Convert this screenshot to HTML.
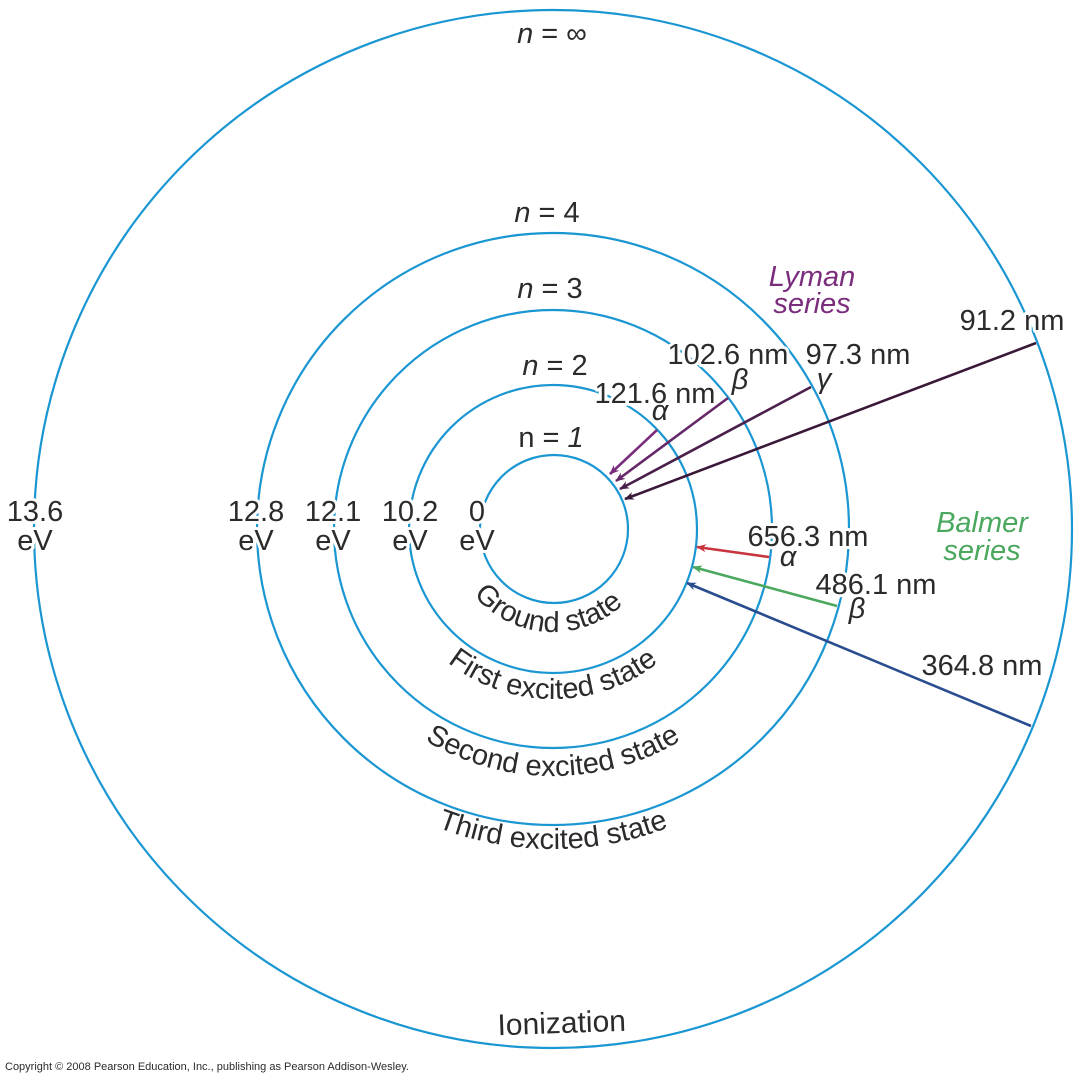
<!DOCTYPE html>
<html><head><meta charset="utf-8"><style>
html,body{margin:0;padding:0;background:#fff}
svg{display:block}
text{font-family:"Liberation Sans",sans-serif;fill:#2b2b2b}
.h{paint-order:stroke;stroke:#fff;stroke-width:6px;stroke-linejoin:round}
.g{font-family:"Liberation Serif",serif;font-style:italic}
</style></head><body>
<svg width="1080" height="1080" viewBox="0 0 1080 1080" xmlns="http://www.w3.org/2000/svg">
<defs>
<marker id="m1" markerWidth="10" markerHeight="8" refX="9" refY="4" orient="auto" markerUnits="userSpaceOnUse"><path d="M0,0 L10,4 L0,8 L3,4 Z" fill="#7b2d7d"/></marker>
<marker id="m2" markerWidth="10" markerHeight="8" refX="9" refY="4" orient="auto" markerUnits="userSpaceOnUse"><path d="M0,0 L10,4 L0,8 L3,4 Z" fill="#652868"/></marker>
<marker id="m3" markerWidth="10" markerHeight="8" refX="9" refY="4" orient="auto" markerUnits="userSpaceOnUse"><path d="M0,0 L10,4 L0,8 L3,4 Z" fill="#4a1f4c"/></marker>
<marker id="m4" markerWidth="10" markerHeight="8" refX="9" refY="4" orient="auto" markerUnits="userSpaceOnUse"><path d="M0,0 L10,4 L0,8 L3,4 Z" fill="#3a1838"/></marker>
<marker id="mr" markerWidth="10" markerHeight="8" refX="9" refY="4" orient="auto" markerUnits="userSpaceOnUse"><path d="M0,0 L10,4 L0,8 L3,4 Z" fill="#c8343f"/></marker>
<marker id="mg" markerWidth="10" markerHeight="8" refX="9" refY="4" orient="auto" markerUnits="userSpaceOnUse"><path d="M0,0 L10,4 L0,8 L3,4 Z" fill="#4aa85e"/></marker>
<marker id="mb" markerWidth="10" markerHeight="8" refX="9" refY="4" orient="auto" markerUnits="userSpaceOnUse"><path d="M0,0 L10,4 L0,8 L3,4 Z" fill="#2a4d8f"/></marker>
<path id="a1" d="M450,529 A103,103 0 0 0 656,529"/>
<path id="a2" d="M383,529 A170,170 0 0 0 723,529"/>
<path id="a3" d="M306,529 A247,247 0 0 0 800,529"/>
<path id="a4" d="M233,529 A320,320 0 0 0 873,529"/>
</defs>
<g fill="none" stroke="#1a96d2" stroke-width="2.2">
<circle cx="553" cy="529" r="519"/>
<circle cx="553" cy="529" r="296"/>
<circle cx="553" cy="529" r="219"/>
<circle cx="553" cy="529" r="144"/>
<circle cx="554" cy="529" r="74"/>
</g>
<g font-size="29">
<text class="h" x="552" y="43" text-anchor="middle"><tspan font-style="italic">n</tspan> = ∞</text>
<text class="h" x="547" y="222" text-anchor="middle"><tspan font-style="italic">n</tspan> = 4</text>
<text class="h" x="550" y="298" text-anchor="middle"><tspan font-style="italic">n</tspan> = 3</text>
<text class="h" x="555" y="375" text-anchor="middle"><tspan font-style="italic">n</tspan> = 2</text>
<text class="h" x="551" y="447" text-anchor="middle">n = <tspan font-style="italic">1</tspan></text>
<g text-anchor="middle">
<text class="h" x="35" y="521">13.6</text><text class="h" x="35" y="550">eV</text>
<text class="h" x="256" y="521">12.8</text><text class="h" x="256" y="550">eV</text>
<text class="h" x="333" y="521">12.1</text><text class="h" x="333" y="550">eV</text>
<text class="h" x="410" y="521">10.2</text><text class="h" x="410" y="550">eV</text>
<text class="h" x="477" y="521">0</text><text class="h" x="477" y="550">eV</text>
</g>
</g>
<g stroke-width="2.6" fill="none">
<line x1="657" y1="430" x2="610" y2="474" stroke="#7b2d7d" marker-end="url(#m1)"/>
<line x1="728" y1="398" x2="616" y2="481" stroke="#652868" marker-end="url(#m2)"/>
<line x1="811" y1="387" x2="620" y2="489" stroke="#4a1f4c" marker-end="url(#m3)"/>
<line x1="1036" y1="343" x2="625" y2="499" stroke="#3a1838" marker-end="url(#m4)"/>
<line x1="769" y1="557" x2="697" y2="547" stroke="#c8343f" marker-end="url(#mr)"/>
<line x1="837" y1="606" x2="693" y2="567" stroke="#4aa85e" marker-end="url(#mg)"/>
<line x1="1031" y1="726" x2="687" y2="583" stroke="#2a4d8f" marker-end="url(#mb)"/>
</g>
<g font-size="29">
<text class="h" x="1012" y="330" text-anchor="middle">91.2 nm</text>
<text class="h" x="728" y="364" text-anchor="middle">102.6 nm</text>
<text class="h" x="858" y="364" text-anchor="middle">97.3 nm</text>
<text class="h" x="655" y="403" text-anchor="middle">121.6 nm</text>
<text class="h" x="808" y="546" text-anchor="middle">656.3 nm</text>
<text class="h" x="876" y="594" text-anchor="middle">486.1 nm</text>
<text class="h" x="982" y="675" text-anchor="middle">364.8 nm</text>
<text x="812" y="286" text-anchor="middle" font-style="italic" style="fill:#7b2d7d">Lyman</text>
<text x="812" y="313" text-anchor="middle" font-style="italic" style="fill:#7b2d7d">series</text>
<text x="982" y="532" text-anchor="middle" font-style="italic" style="fill:#4aa85e">Balmer</text>
<text x="982" y="560" text-anchor="middle" font-style="italic" style="fill:#4aa85e">series</text>
</g>
<g font-size="29" class="g">
<text x="660" y="420" text-anchor="middle">α</text>
<text x="740" y="389" text-anchor="middle">β</text>
<text x="824" y="388" text-anchor="middle">γ</text>
<text x="788" y="566" text-anchor="middle">α</text>
<text x="857" y="618" text-anchor="middle">β</text>
</g>
<g font-size="29">
<text><textPath href="#a1" startOffset="48%" text-anchor="middle">Ground state</textPath></text>
<text><textPath href="#a2" startOffset="50%" text-anchor="middle">First excited state</textPath></text>
<text><textPath href="#a3" startOffset="50%" text-anchor="middle">Second excited state</textPath></text>
<text><textPath href="#a4" startOffset="50%" text-anchor="middle">Third excited state</textPath></text>
<text class="h" x="562" y="1033" text-anchor="middle" font-size="30" transform="rotate(-2 562 1033)">Ionization</text>
</g>
<text x="5" y="1070" font-size="11">Copyright © 2008 Pearson Education, Inc., publishing as Pearson Addison-Wesley.</text>
</svg>
</body></html>
